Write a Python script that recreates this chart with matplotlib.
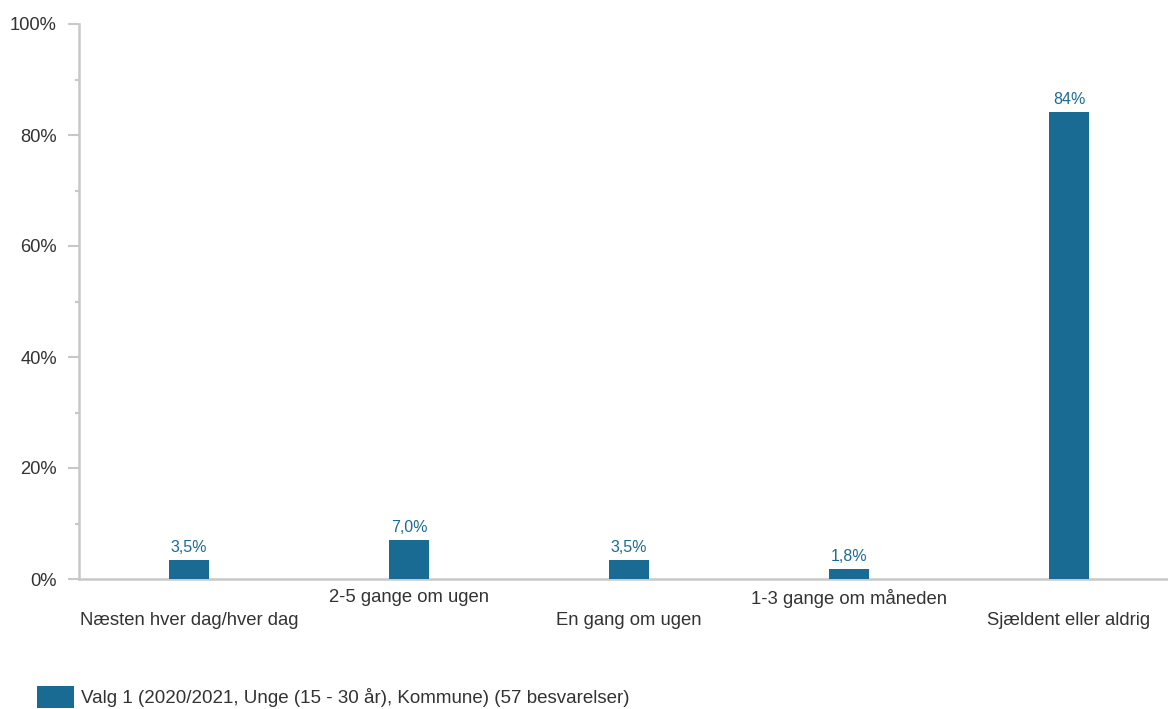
import matplotlib
matplotlib.use("Agg")
import matplotlib.pyplot as plt
from matplotlib.ticker import MultipleLocator, FuncFormatter

plt.rcParams['font.family'] = ['Liberation Sans', 'DejaVu Sans']

categories = ['Næsten hver dag/hver dag', '2-5 gange om ugen', 'En gang om ugen',
              '1-3 gange om måneden', 'Sjældent eller aldrig']
values = [3.5, 7.0, 3.5, 1.8, 84.2]
value_labels = ['3,5%', '7,0%', '3,5%', '1,8%', '84%']
series_name = 'Valg 1 (2020/2021, Unge (15 - 30 år), Kommune) (57 besvarelser)'

bar_color = '#1a6b94'
grey = '#c8c8c8'
text_color = '#333333'

fig = plt.figure(figsize=(11.68, 7.09), dpi=100)
ax = fig.add_axes([79 / 1168, 1 - 579 / 709, 1089 / 1168, 555 / 709])

x = range(len(categories))
bars = ax.bar(x, values, width=0.186, color=bar_color, label=series_name, zorder=3)

for b, lab in zip(bars, value_labels):
    ax.annotate(lab, (b.get_x() + b.get_width() / 2, b.get_height()),
                xytext=(0, 3.5), textcoords='offset points', ha='center', va='bottom',
                fontsize=11.5, color=bar_color)

ax.set_xlim(-0.5, -0.5 + 1089 / 220)
ax.set_ylim(0, 100)

ax.yaxis.set_major_locator(MultipleLocator(20))
ax.yaxis.set_minor_locator(MultipleLocator(10))
ax.yaxis.set_major_formatter(FuncFormatter(lambda v, p: f'{v:.0f}%'))
ax.tick_params(axis='y', which='major', length=8, width=1.5, color=grey,
               labelsize=13.2, labelcolor=text_color, pad=8)
ax.tick_params(axis='y', which='minor', length=3, width=1.5, color=grey)

ax.set_xticks(list(x))
ax.set_xticklabels(categories)
ax.tick_params(axis='x', length=0, labelsize=13.3, labelcolor=text_color)
for i, t in enumerate(ax.xaxis.get_major_ticks()):
    t.set_pad(24 if i % 2 == 0 else 7.5)

for s in ['top', 'right']:
    ax.spines[s].set_visible(False)
for s in ['left', 'bottom']:
    ax.spines[s].set_color(grey)
    ax.spines[s].set_linewidth(1.8)

fig.legend(loc='center left', bbox_to_anchor=(37 / 1168, 1 - 697 / 709), frameon=False,
           fontsize=13.5, handlelength=1.95, handleheight=1.4, handletextpad=0.4,
           borderpad=0, borderaxespad=0, labelcolor=text_color)

fig.savefig('out.png', dpi=100)
